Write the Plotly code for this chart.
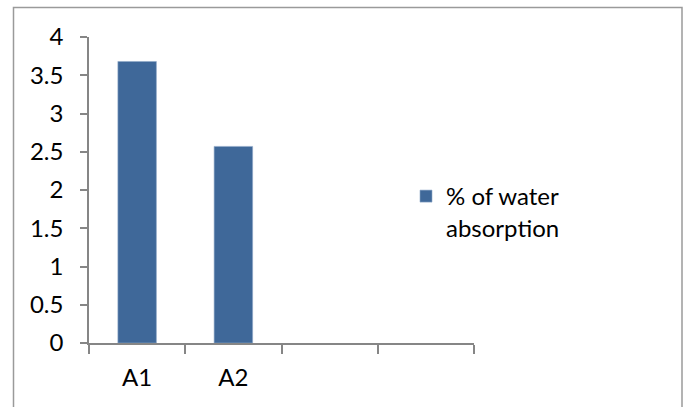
import plotly.graph_objects as go

categories = ["A1", "A2", " ", "  "]
bar_categories = ["A1", "A2"]
values = [3.68, 2.57]
series_name = "% of water<br>absorption"
y_ticks = [0, 0.5, 1, 1.5, 2, 2.5, 3, 3.5, 4]

BAR = "#3F6899"
AXIS = "#868686"
FONT = "Lato, Noto Sans, Arial, sans-serif"

fig = go.Figure()
fig.add_trace(go.Bar(
    x=bar_categories, y=values, name=series_name,
    marker=dict(color=BAR, line=dict(color="#8FA8C8", width=0.6)),
    showlegend=True,
))

L, R, T, B = 89, 211, 37, 64
W, H = 685, 407
pw, ph = W - L - R, H - T - B

def px_x(p):
    return (p - L) / pw

def px_y(p):
    return (H - B - p) / ph

fig.update_layout(
    width=W, height=H,
    margin=dict(l=L, r=R, t=T, b=B, pad=0),
    paper_bgcolor="white", plot_bgcolor="white",
    font=dict(family=FONT, size=24, color="black"),
    bargap=0.6,
    showlegend=True,
    legend=dict(
        x=px_x(406), y=px_y(174), xanchor="left", yanchor="top",
        valign="top", font=dict(size=24), bgcolor="rgba(0,0,0,0)",
        itemwidth=30,
    ),
    xaxis=dict(
        type="category", categoryorder="array", categoryarray=categories,
        tickvals=categories, ticktext=categories,
        tickson="boundaries", ticks="outside", ticklen=9, tickcolor=AXIS, tickwidth=1.5,
        showline=True, linecolor=AXIS, linewidth=1.5,
        showgrid=False, zeroline=False, range=[-0.5, 3.5],
        ticklabelstandoff=12,
    ),
    yaxis=dict(
        range=[0, 4], tickvals=y_ticks,
        ticks="outside", ticklen=7, tickcolor=AXIS, tickwidth=1.5,
        showline=True, linecolor=AXIS, linewidth=1.5,
        showgrid=False, zeroline=False,
        ticklabelstandoff=12,
    ),
    shapes=[dict(
        type="rect", xref="paper", yref="paper",
        x0=px_x(13.5), x1=px_x(682), y0=px_y(412), y1=px_y(7.5),
        line=dict(color="#9A9A9A", width=1.5), fillcolor="rgba(0,0,0,0)",
        layer="above",
    )],
)

fig.write_html("out.html", config={"displayModeBar": False},
               post_script="document.body.style.margin='0';")
